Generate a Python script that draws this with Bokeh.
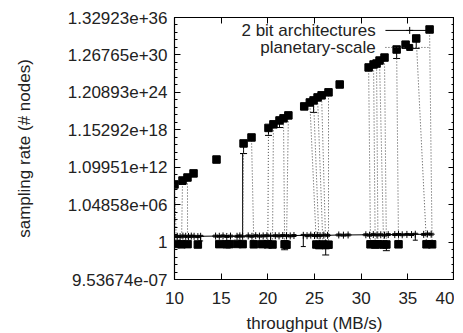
import numpy as np
from bokeh.plotting import figure
from bokeh.models import (Range1d, LogAxis, LinearAxis, FixedTicker, CustomJSTickFormatter,
                          ColumnDataSource, Whisker, TeeHead)
from bokeh.core.properties import value
from bokeh.embed import file_html
from bokeh.resources import INLINE

# ---------------- axis ticks ----------------
x_ticks = [10, 15, 20, 25, 30, 35, 40]
y_tick_exps = [-20, 0, 20, 40, 60, 80, 100, 120]
y_tick_labels = ["9.53674e-07", "1", "1.04858e+06", "1.09951e+12",
                 "1.15292e+18", "1.20893e+24", "1.26765e+30", "1.32923e+36"]
y_minor_exps = list(range(-20, 121, 4))

# ---------------- series "2 bit architectures" (y as powers of 2) ----------------
bit_x = [10.0, 10.3, 10.6, 10.9, 11.2, 11.5, 11.8, 12.1, 12.5, 12.8,
         14.4, 14.8, 15.2, 15.6, 16.0,
         16.7, 17.0, 17.3,
         17.9, 18.3, 18.7, 19.1, 19.5, 19.9, 20.3,
         20.8, 21.2, 21.6, 22.0, 22.4, 22.8,
         23.8, 24.2, 24.6, 25.0, 25.3, 25.6, 26.0, 26.4,
         27.6, 28.1, 28.6,
         30.5, 30.9, 31.3, 31.7, 32.1, 32.5, 32.9,
         33.6, 34.0, 34.4, 34.9, 35.4, 35.8,
         36.7, 37.1, 37.5]
bit_log2 = [3.0, 3.1, 2.9, 3.2, 3.1, 3.0, 3.2, 3.1, 2.9, 3.1,
            3.2, 3.1, 3.3, 3.0, 3.2,
            3.1, 3.3, 3.2,
            3.3, 3.1, 3.4, 3.2, 3.3, 3.4, 3.2,
            3.4, 3.3, 3.5, 3.4, 3.3, 3.5,
            3.6, 3.4, 3.7, 3.5, 3.6, 3.4, 3.7, 3.6,
            3.8, 3.7, 3.8,
            3.9, 3.7, 4.0, 3.8, 3.9, 3.7, 4.0,
            4.0, 4.1, 3.9, 4.1, 4.0, 4.2,
            4.1, 4.3, 4.2]
bit_lo = [2.5, 2.6, 2.4, 2.7, 2.6, 2.5, 2.7, 2.6, 2.4, 0.6,
          2.7, 2.6, 2.8, 2.5, 2.7,
          2.6, 2.8, 2.7,
          2.8, 2.6, 2.9, 2.7, 2.8, 2.9, -1.7,
          2.9, 2.8, 3.0, 2.9, 2.8, 3.0,
          -2.4, 2.9, 3.2, 3.0, 3.1, 2.9, 3.2, 3.1,
          3.3, 3.2, 3.3,
          3.4, 3.2, 3.5, 3.3, 3.4, 3.2, 3.5,
          3.5, 3.6, 3.4, 3.6, 3.5, 1.0,
          3.6, 3.8, 3.7]
bit_hi = [3.5, 3.6, 3.4, 3.7, 3.6, 3.5, 3.7, 3.6, 3.4, 3.6,
          3.7, 3.6, 3.8, 3.5, 3.7,
          3.6, 3.8, 47.3,
          3.8, 3.6, 3.9, 3.7, 3.8, 3.9, 3.7,
          3.9, 3.8, 4.0, 3.9, 3.8, 4.0,
          4.1, 3.9, 4.2, 4.0, 4.1, 3.9, 4.2, 4.1,
          4.3, 4.2, 4.3,
          4.4, 4.2, 4.5, 4.3, 4.4, 4.2, 4.5,
          4.5, 4.6, 4.4, 4.6, 4.5, 4.7,
          4.6, 4.8, 4.7]

# ---------------- series "planetary-scale" (file order, NaN = break in line) ----------------
nan = float("nan")
plan_x = [10.0, 10.2, nan, 10.86, 10.75, nan, 11.39, 11.4, nan, 12.04, nan, 12.5, nan,
          14.5, nan, 14.8, nan, 15.6, nan, 15.9, nan, 16.75, nan,
          17.4, 17.3, nan, 18.25, 18.5, nan, 19.4, nan,
          20.07, 20.0, nan, 20.6, 20.5, nan, 21.25, nan, 21.68, 21.8, nan, 22.2, 22.0, nan,
          23.9, nan, 24.5, 25.2, nan, 24.9, 25.5, nan, 25.33, 25.9, nan, 25.76, 26.2, nan,
          26.5, 26.5, nan, 27.7, nan,
          30.8, 31.0, nan, 31.33, 31.5, nan, 31.65, 31.8, nan, 31.97, 32.4, nan,
          32.5, 32.7, nan, 33.8, 34.0, nan, 34.76, nan,
          35.9, 37.0, nan, 37.33, 37.6]
plan_log2 = [30.8, -1.0, nan, 32.9, -1.2, nan, 34.5, -1.1, nan, 36.7, nan, -1.3, nan,
             44.1, nan, -1.1, nan, -1.2, nan, -1.1, nan, -1.0, nan,
             52.7, -1.1, nan, 55.9, -1.2, nan, -1.1, nan,
             61.0, -1.2, nan, 62.9, -1.3, nan, 65.0, nan, 66.1, -1.2, nan, 67.7, -1.4, nan,
             72.5, nan, 74.6, -1.3, nan, 75.7, -1.6, nan, 77.3, -1.3, nan, 78.4, -1.6, nan,
             80.0, -1.4, nan, 84.2, nan,
             93.3, -1.2, nan, 94.9, -1.3, nan, 95.4, -1.2, nan, 97.0, -1.3, nan,
             98.6, -1.3, nan, 102.9, -1.2, nan, 105.5, nan,
             108.8, -1.2, nan, 113.6, -1.2]
# error bars of planetary-scale points (x, low, high in powers of 2)
plan_err_x = [10.86, 17.4, 20.07, 21.25, 24.9, 33.8, 35.9, 12.5, 21.8, 26.2, 32.7]
plan_err_lo = [30.8, 47.3, 57.0, 61.2, 69.3, 98.1, 103.5, -2.3, -4.1, -6.9, -4.6]
plan_err_hi = [33.3, 53.1, 61.4, 65.4, 76.1, 103.3, 109.2, -0.9, -0.7, -0.5, -0.9]

# ---------------- legend ----------------
leg_names = ["2 bit architectures", "planetary-scale"]
leg_rows = [113.1, 104.0]          # legend row heights (powers of 2)
leg_text_x = 31.55
leg_x0, leg_x1, leg_xm = 32.6, 37.4, 35.2

# ---------------- figure ----------------
FONT = "Liberation Sans"
FS = "17px"
p = figure(frame_width=280, frame_height=262, output_backend="svg", toolbar_location=None,
           x_range=Range1d(10, 40), y_range=Range1d(2.0 ** -20, 2.0 ** 120),
           y_axis_type="log", x_axis_location=None, y_axis_location=None,
           min_border_left=174, min_border_right=0, min_border_top=17, min_border_bottom=0)
p.xgrid.visible = False
p.ygrid.visible = False
p.outline_line_color = "black"
p.outline_line_width = 1.2
p.background_fill_color = "white"
p.border_fill_color = "white"

yfmt = CustomJSTickFormatter(args=dict(exps=y_tick_exps, labels=y_tick_labels), code="""
const e = Math.round(Math.log2(tick));
const i = exps.indexOf(e);
return i >= 0 ? labels[i] : "";
""")
blank = CustomJSTickFormatter(code="return '';")
yticker = FixedTicker(ticks=[2.0 ** e for e in y_tick_exps],
                      minor_ticks=[2.0 ** e for e in y_minor_exps])
xticker = FixedTicker(ticks=x_ticks, minor_ticks=[])


def style(ax, labels=True):
    ax.axis_line_color = None
    ax.major_tick_in = 6
    ax.major_tick_out = 0
    ax.minor_tick_in = 3
    ax.minor_tick_out = 0
    ax.major_tick_line_color = "black"
    ax.minor_tick_line_color = "black"
    ax.major_label_text_font = FONT
    ax.major_label_text_font_size = FS
    ax.major_label_text_color = "#222222"
    ax.axis_label_text_font = FONT
    ax.axis_label_text_font_size = FS
    ax.axis_label_text_font_style = "normal"
    ax.axis_label_text_color = "#222222"
    if not labels:
        ax.major_label_standoff = 0


yl = LogAxis(ticker=yticker, formatter=yfmt, axis_label="sampling rate (# nodes)")
style(yl)
yl.major_label_standoff = 7
yl.axis_label_standoff = 31
p.add_layout(yl, "left")
yr = LogAxis(ticker=yticker, formatter=blank)
style(yr, labels=False)
p.add_layout(yr, "right")

xb = LinearAxis(ticker=xticker, axis_label="throughput (MB/s)")
style(xb)
xb.major_label_standoff = 12
xb.axis_label_standoff = 7
p.add_layout(xb, "below")
xt = LinearAxis(ticker=xticker, formatter=blank)
style(xt, labels=False)
p.add_layout(xt, "above")

# ---------------- planetary-scale ----------------
py = [2.0 ** v for v in plan_log2]
p.line(plan_x, py, line_color="#444444", line_width=1, line_dash="1 2")
perr = ColumnDataSource(dict(x=plan_err_x, lo=[2.0 ** v for v in plan_err_lo],
                             hi=[2.0 ** v for v in plan_err_hi]))
p.add_layout(Whisker(source=perr, base="x", lower="lo", upper="hi", dimension="height",
                     line_color="black", line_width=1,
                     lower_head=TeeHead(size=7, line_color="black"),
                     upper_head=TeeHead(size=7, line_color="black")))
p.scatter(plan_x, py, marker="square", size=7.5, fill_color="black", line_color="black")

# ---------------- 2 bit architectures ----------------
by = [2.0 ** v for v in bit_log2]
berr = ColumnDataSource(dict(x=bit_x, lo=[2.0 ** v for v in bit_lo],
                             hi=[2.0 ** v for v in bit_hi]))
p.add_layout(Whisker(source=berr, base="x", lower="lo", upper="hi", dimension="height",
                     line_color="black", line_width=1,
                     lower_head=TeeHead(size=5, line_color="black"),
                     upper_head=TeeHead(size=5, line_color="black")))
p.line(bit_x, by, line_color="black", line_width=1)
p.scatter(bit_x, by, marker="cross", size=7, line_color="black", line_width=1)

# ---------------- legend (gnuplot style: text then sample) ----------------
ly = [2.0 ** v for v in leg_rows]
p.text(x=[leg_text_x, leg_text_x], y=ly, text=leg_names, text_align="right",
       text_baseline="middle", text_font=value(FONT), text_font_size=FS,
       text_color="#222222")
p.line([leg_x0, leg_x1], [ly[0], ly[0]], line_color="black", line_width=1)
p.line([leg_x0, leg_x1], [ly[1], ly[1]], line_color="#444444", line_width=1, line_dash="1 2")
p.scatter([leg_xm], [ly[0]], marker="cross", size=7, line_color="black")
p.scatter([leg_xm], [ly[1]], marker="square", size=6, fill_color="black", line_color="black")

open("out.html", "w").write(file_html(p, INLINE))
